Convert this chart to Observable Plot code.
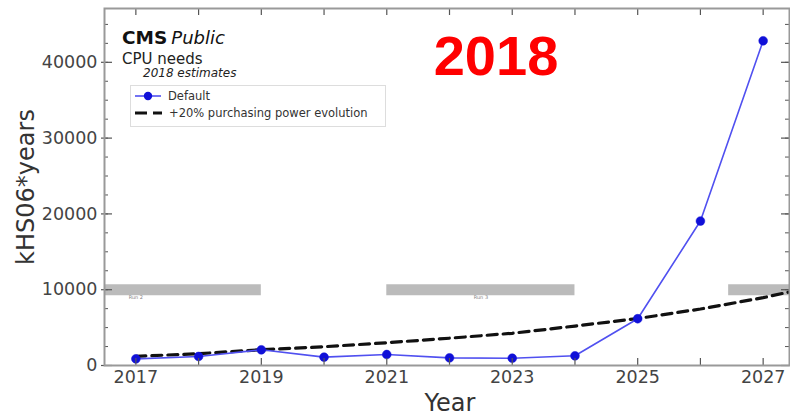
<!DOCTYPE html>
<html>
<head>
<meta charset="utf-8">
<script src="https://cdn.jsdelivr.net/npm/d3@7"></script>
<script src="https://cdn.jsdelivr.net/npm/@observablehq/plot@0.6"></script>
<style>
  html, body { margin: 0; padding: 0; background: #fff; }
  #chart svg { display: block; }
</style>
</head>
<body>
<div id="chart"></div>
<script>
// CPU needs, 2018 estimates (kHS06*years)
const years = [2017, 2018, 2019, 2020, 2021, 2022, 2023, 2024, 2025, 2026, 2027];
const defaultNeeds = [880, 1190, 2070, 1100, 1450, 1010, 960, 1280, 6170, 19060, 42840];

// +20% purchasing power evolution (flat budget)
const budgetYears = [2017, 2018, 2019, 2020, 2021, 2022, 2023, 2024, 2025, 2026, 2027, 2027.5];
const budgetValues = [1200, 1560, 2080, 2480, 3000, 3600, 4250, 5200, 6200, 7450, 8950, 9850];

// LHC run periods drawn as grey bands
const runNames = ["Run 2", "Run 3", "Run 4"];
const runStart = [2015, 2021, 2026.45];
const runEnd = [2019, 2024, 2029];
const runLevel = 10000;

// Axis ticks
const xDomain = [2016.5, 2027.42];
const xTickLabels = [2017, 2019, 2021, 2023, 2025, 2027];
const yTickLabels = [0, 10000, 20000, 30000, 40000];
const yMinorTicks = d3.range(0, 47500, 2500);

const series = years.map((year, i) => ({year, value: defaultNeeds[i]}));
const budget = budgetYears.map((year, i) => ({year, value: budgetValues[i]}));
const runs = runNames.map((name, i) => ({name, start: runStart[i], end: runEnd[i], mid: (runStart[i] + runEnd[i]) / 2, level: runLevel}));
// only label a run whose band centre lies inside the visible range
const labelledRuns = runs.filter(d => d.mid > xDomain[0] && d.mid < xDomain[1]);

const W = 790, H = 417;
const mL = 104, mR = 1, mT = 8, mB = 52;
const plotW = W - mL - mR, plotH = H - mT - mB;
const tickColor = "#555";
const font = "DejaVu Sans, sans-serif";

const chart = Plot.plot({
  width: W,
  height: H,
  marginLeft: mL,
  marginRight: mR,
  marginTop: mT,
  marginBottom: mB,
  style: {fontFamily: font, background: "#fff", color: "#444"},
  x: {domain: xDomain},
  y: {domain: [0, 47100]},
  marks: [
    // run bands
    Plot.ruleY(runs, {y: "level", x1: "start", x2: "end", stroke: "#bbb", strokeWidth: 11, clip: true}),
    Plot.text(labelledRuns, {x: "mid", y: "level", text: "name", dy: 8, fontSize: 5, fill: "#888"}),
    // budget curve
    Plot.line(budget, {x: "year", y: "value", stroke: "#111", strokeWidth: 3.2, strokeDasharray: "10,6", clip: true}),
    // default scenario
    Plot.line(series, {x: "year", y: "value", stroke: "#5050f0", strokeWidth: 1.6}),
    Plot.dot(series, {x: "year", y: "value", r: 4.4, fill: "#1010d8", stroke: "#1010d8", strokeWidth: 0.5}),
    // inward ticks: bottom / top
    Plot.ruleX(years, {x: d => d, insetTop: plotH - 7, stroke: tickColor, strokeWidth: 1.2}),
    Plot.ruleX(years, {x: d => d, insetBottom: plotH - 7, stroke: tickColor, strokeWidth: 1.2}),
    // inward ticks: left / right, major and minor
    Plot.ruleY(yMinorTicks, {y: d => d, insetRight: plotW - 4, stroke: tickColor, strokeWidth: 1}),
    Plot.ruleY(yMinorTicks, {y: d => d, insetLeft: plotW - 4, stroke: tickColor, strokeWidth: 1}),
    Plot.ruleY(yTickLabels, {y: d => d, insetRight: plotW - 8, insetLeft: -3, stroke: tickColor, strokeWidth: 1.2}),
    Plot.ruleY(yTickLabels, {y: d => d, insetLeft: plotW - 8, stroke: tickColor, strokeWidth: 1.2}),
    Plot.frame({stroke: "#999", strokeWidth: 2}),
    Plot.axisX({ticks: xTickLabels, tickSize: 0, tickPadding: 5, tickFormat: d => String(d), fontSize: 17.5, label: null}),
    Plot.axisY({ticks: yTickLabels, tickSize: 0, tickPadding: 7, tickFormat: d => String(d), fontSize: 17.5, label: null})
  ]
});

document.getElementById("chart").appendChild(chart);

const svg = d3.select(chart);
const txt = (x, y, s, attrs) => {
  const t = svg.append("text").attr("x", x).attr("y", y).text(s)
    .attr("font-family", font).attr("fill", "#222").attr("text-anchor", "start");
  for (const k in attrs) t.attr(k, attrs[k]);
  return t;
};

// axis titles
txt(450, 411, "Year", {"font-size": 24, "text-anchor": "middle", fill: "#333"});
txt(0, 0, "kHS06*years", {"font-size": 24, "text-anchor": "middle", fill: "#333",
  transform: "translate(34,187) rotate(-90)"});

// header
const head = svg.append("text").attr("x", 122).attr("y", 44).attr("font-family", font)
  .attr("fill", "#111").attr("text-anchor", "start");
head.append("tspan").attr("font-weight", "bold").attr("font-size", 18.5).text("CMS");
head.append("tspan").attr("font-style", "italic").attr("font-size", 18).attr("dx", 4).text("Public");
txt(122, 64, "CPU needs", {"font-size": 15});
txt(143, 77, "2018 estimates", {"font-size": 12, "font-style": "italic"});

// legend
svg.append("rect").attr("x", 130.5).attr("y", 85.5).attr("width", 255).attr("height", 41)
  .attr("fill", "#fff").attr("stroke", "#ddd").attr("stroke-width", 1);
svg.append("line").attr("x1", 135).attr("x2", 161).attr("y1", 96).attr("y2", 96)
  .attr("stroke", "#5050f0").attr("stroke-width", 1.6);
svg.append("circle").attr("cx", 148).attr("cy", 96).attr("r", 4.2).attr("fill", "#1010d8");
txt(168, 100, "Default", {"font-size": 11.5, fill: "#333"});
svg.append("line").attr("x1", 135).attr("x2", 162).attr("y1", 113).attr("y2", 113)
  .attr("stroke", "#111").attr("stroke-width", 3.2).attr("stroke-dasharray", "12,6");
txt(169, 117, "+20% purchasing power evolution", {"font-size": 11.5, fill: "#333"});

// year stamp
txt(496, 75, "2018", {"font-size": 56, "font-weight": "bold", "text-anchor": "middle",
  fill: "#ff0000", "font-family": "Liberation Sans, Arial, sans-serif"});
</script>
</body>
</html>
